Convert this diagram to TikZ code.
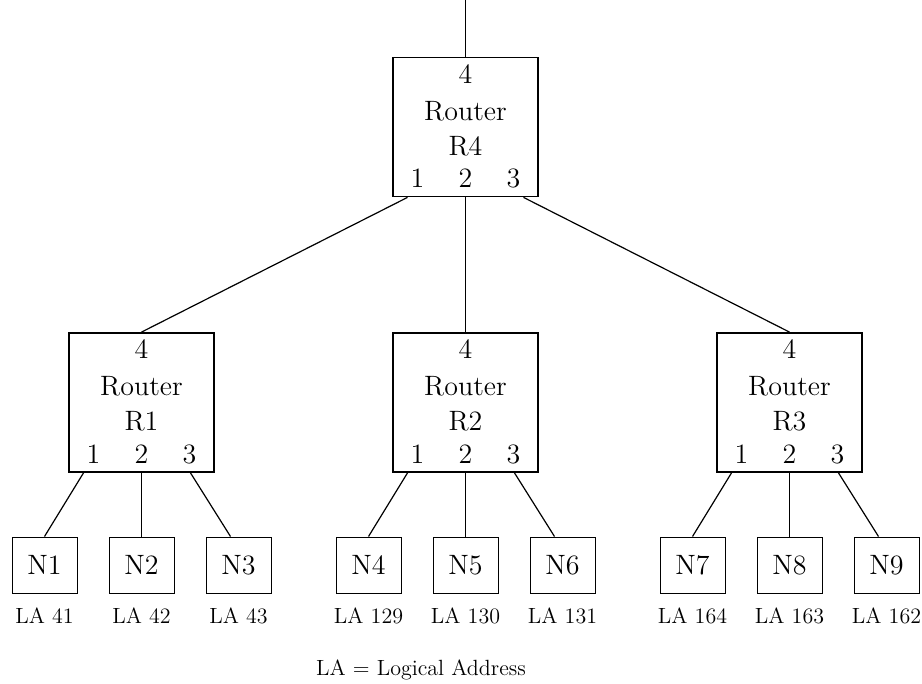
\documentclass[tikz,border=0pt]{standalone}
\usetikzlibrary{calc, positioning}
\tikzset{
  font=\fontsize{14}{17.5}\selectfont,
  % Router box
  router/.style={draw, line width=0.9pt, shape=rectangle, minimum
    width=72.5pt, minimum height=69.5pt, inner sep=0pt},
  % Router name inside the box
  rname/.style={align=center, inner sep=0pt},
  % Port number
  port/.style={inner sep=0pt},
  % Host node
  host/.style={draw, line width=0.5pt, shape=rectangle, minimum
    width=32.5pt, minimum height=28pt, inner sep=0pt},
  % Logical address label
  addr/.style={font=\fontsize{11}{13}\selectfont, inner sep=0pt},
  % Links
  link/.style={line width=0.6pt},
}
\begin{document}
\begin{tikzpicture}[x=0.5pt, y=-0.5pt]
  \useasboundingbox (0,0) rectangle (922,684);

  % Top router
  \node[router] (r4) at (465.5,127) {};
  \node[rname] (r4-name) at ([yshift=-36pt]r4.north) {Router\\R4};
  \node[port] (r4-4) at ([yshift=-8.5pt]r4.north) {4};
  \node[port] (r4-1) at ([xshift=-24pt,yshift=-61pt]r4.north) {1};
  \node[port] (r4-2) at ([yshift=-61pt]r4.north) {2};
  \node[port] (r4-3) at ([xshift=24pt,yshift=-61pt]r4.north) {3};
  \coordinate (up) at (465.5,0);
  \draw[link] (up) -- (r4.north);

  % Lower routers with their hosts
  \foreach \r/\x/\la/\lb/\lc in {1/141.5/41/42/43, 2/465.5/129/130/131,
    3/789.5/164/163/162} {
    \node[router] (r\r) at (\x,402.5) {};
    \node[rname] (r\r-name) at ([yshift=-36pt]r\r.north) {Router\\R\r};
    \node[port] (r\r-4) at ([yshift=-8.5pt]r\r.north) {4};
    \node[port] (r\r-1) at ([xshift=-24pt,yshift=-61pt]r\r.north) {1};
    \node[port] (r\r-2) at ([yshift=-61pt]r\r.north) {2};
    \node[port] (r\r-3) at ([xshift=24pt,yshift=-61pt]r\r.north) {3};

    \pgfmathtruncatemacro{\na}{3*\r-2}
    \pgfmathtruncatemacro{\nb}{3*\r-1}
    \pgfmathtruncatemacro{\nc}{3*\r}
    \node[host] (n\na) at (\x-97,565) {N\na};
    \node[host] (n\nb) at (\x,565) {N\nb};
    \node[host] (n\nc) at (\x+97,565) {N\nc};
    \node[addr] (la\na) at (\x-97,616) {LA \la};
    \node[addr] (la\nb) at (\x,616) {LA \lb};
    \node[addr] (la\nc) at (\x+97,616) {LA \lc};

    \draw[link] ([xshift=-29pt]r\r.south) -- (n\na.north);
    \draw[link] (r\r.south) -- (n\nb.north);
    \draw[link] ([xshift=24.5pt]r\r.south) -- ([xshift=-4pt]n\nc.north);
  }

  \draw[link] ([xshift=-29pt]r4.south) -- (r1.north);
  \draw[link] (r4.south) -- (r2.north);
  \draw[link] ([xshift=29pt]r4.south) -- (r3.north);

  \node[addr] (legend) at (421,670) {LA = Logical Address};
\end{tikzpicture}
\end{document}
